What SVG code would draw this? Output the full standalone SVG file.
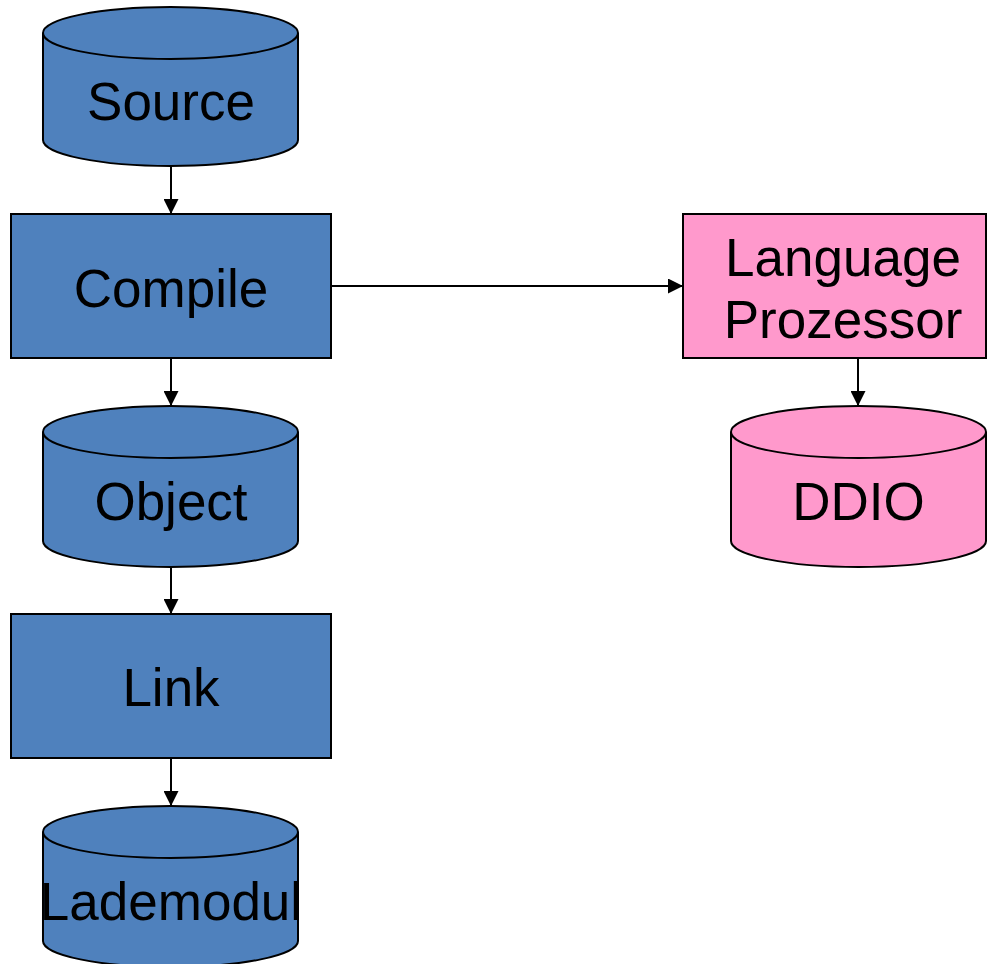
<svg xmlns="http://www.w3.org/2000/svg" width="987" height="964" viewBox="0 0 987 964">
  <defs>
    <marker id="arrow" viewBox="0 0 10 10" refX="10" refY="5" markerWidth="15" markerHeight="15" markerUnits="userSpaceOnUse" orient="auto">
      <path d="M0,0 L10,5 L0,10 z" fill="#000"/>
    </marker>
    <style>
      .blue { fill: #4F81BD; stroke: #000; stroke-width: 2; }
      .pink { fill: #FF99CC; stroke: #000; stroke-width: 2; }
      .lbl { font-family: "Liberation Sans", Arial, sans-serif; font-size: 53px; fill: #000; text-anchor: middle; }
      .conn { stroke: #000; stroke-width: 2; fill: none; marker-end: url(#arrow); }
    </style>
  </defs>
  <rect width="987" height="964" fill="#fff"/>

  <g id="connectors">
    <line class="conn" x1="171" y1="166" x2="171" y2="214"/>
    <line class="conn" x1="171" y1="358" x2="171" y2="406"/>
    <line class="conn" x1="171" y1="567" x2="171" y2="614"/>
    <line class="conn" x1="171" y1="758" x2="171" y2="806"/>
    <line class="conn" x1="331" y1="286" x2="683" y2="286"/>
    <line class="conn" x1="858" y1="358" x2="858" y2="406"/>
  </g>

  <g id="source">
    <path class="blue" d="M43,33 A127.5,26 0 0 1 298,33 L298,140 A127.5,26 0 0 1 43,140 Z"/>
    <path class="blue" d="M43,33 A127.5,26 0 0 0 298,33" fill="none"/>
    <text class="lbl" x="171" y="120">Source</text>
  </g>

  <g id="compile">
    <rect class="blue" x="11" y="214" width="320" height="144"/>
    <text class="lbl" x="171" y="307">Compile</text>
  </g>

  <g id="object">
    <path class="blue" d="M43,432 A127.5,26 0 0 1 298,432 L298,541 A127.5,26 0 0 1 43,541 Z"/>
    <path class="blue" d="M43,432 A127.5,26 0 0 0 298,432" fill="none"/>
    <text class="lbl" x="171" y="520">Object</text>
  </g>

  <g id="link">
    <rect class="blue" x="11" y="614" width="320" height="144"/>
    <text class="lbl" x="171" y="706">Link</text>
  </g>

  <g id="lademodul">
    <path class="blue" d="M43,832 A127.5,26 0 0 1 298,832 L298,941 A127.5,26 0 0 1 43,941 Z"/>
    <path class="blue" d="M43,832 A127.5,26 0 0 0 298,832" fill="none"/>
    <text class="lbl" x="171" y="920">Lademodul</text>
  </g>

  <g id="language-prozessor">
    <rect class="pink" x="683" y="214" width="303" height="144"/>
    <text class="lbl" x="843" y="276">Language</text>
    <text class="lbl" x="843" y="338">Prozessor</text>
  </g>

  <g id="ddio">
    <path class="pink" d="M731,432 A127.5,26 0 0 1 986,432 L986,541 A127.5,26 0 0 1 731,541 Z"/>
    <path class="pink" d="M731,432 A127.5,26 0 0 0 986,432" fill="none"/>
    <text class="lbl" x="858.5" y="520">DDIO</text>
  </g>
</svg>
